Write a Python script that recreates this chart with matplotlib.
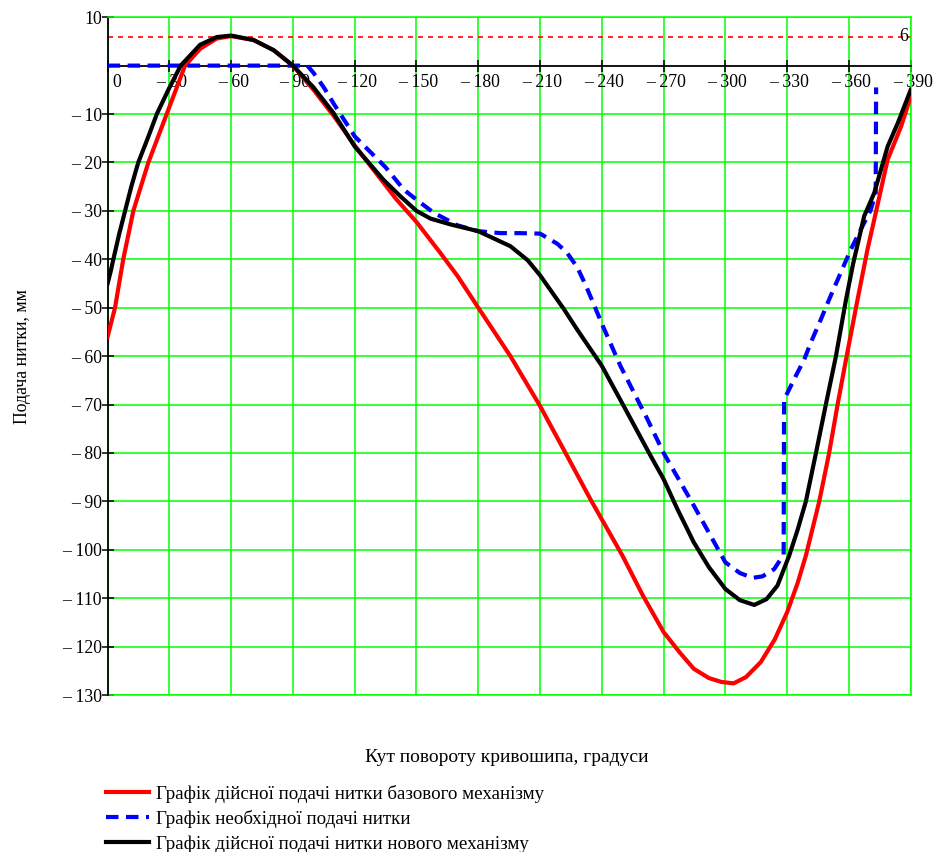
import matplotlib
matplotlib.use('Agg')
import matplotlib.pyplot as plt
import matplotlib.transforms as mtransforms

plt.rcParams['font.family'] = ['Liberation Serif', 'DejaVu Serif']

# ---------------- data ----------------
angle_base = [0, 3.6, 7.6, 12.5, 19.8, 28.7, 37.6, 45, 53, 60, 70.8, 80.6, 90,
              100, 110, 120, 130, 140, 150, 161.6, 170, 180, 195.6, 210, 221.6,
              234.5, 250, 260, 270, 278, 284.7, 292, 298, 304, 310, 317.2, 324,
              330, 335, 339.1, 345.6, 350.4, 354.5, 358.9, 364.2, 369, 372.3,
              378.8, 385.3, 390]
feed_base = [-56, -50, -40, -30, -20, -10, 0, 3.5, 5.6, 6.1, 5.3, 3.2, 0,
             -5, -10.5, -16.5, -22, -27.5, -32.3, -38.7, -43.5, -50, -60, -70.3, -79.4,
             -89.6, -101.2, -109.5, -117, -121.3, -124.6, -126.5, -127.3, -127.6, -126.3, -123.2, -118.5,
             -112.9, -107, -101.2, -90, -80, -70, -60, -48.3, -38, -31.8,
             -19.4, -12.6, -6.4]

angle_req = [0, 97, 100, 105, 110, 120, 135, 143.8, 150, 158.4, 170, 180, 190.8,
             200, 210, 218.4, 223, 228, 232, 236.2, 240, 249, 262.1, 270, 284.7, 300, 307,
             313.2, 318, 323.7, 328.3, 328.5, 334.2, 338.3, 341.5, 346.4, 350.4,
             356, 360.9, 365.7, 370.6, 373, 373.2]
feed_req = [0, 0, -1.5, -4.5, -8, -14.6, -21, -25.6, -27.7, -30.4, -33, -34.2, -34.6,
            -34.6, -34.7, -36.8, -38.6, -41.6, -45.2, -49.4, -53.3, -62, -73, -80, -90.9, -102.6, -104.8,
            -105.8, -105.5, -104, -101, -69, -64.1, -60.7, -57.2, -52.4, -48.3,
            -42.8, -38, -33.9, -29.8, -26.3, -4.5]

angle_new = [0, 1.5, 2.8, 5.5, 8.5, 11.5, 14.9, 19.5, 23.9, 29.5, 35.5, 44.9, 53, 60,
             70.8, 80.6, 90, 100, 109.7, 120, 134, 142.2, 150, 156.8, 166.5, 180,
             195.6, 204, 210, 221.6, 228, 240, 252.4, 263.7, 270, 276.7, 284.7, 292, 300,
             307, 314, 320, 325.3, 331, 335, 339.1, 344, 348.8, 353.7, 358.6, 362,
             367.4, 372.3, 378.8, 383.7, 390]
feed_new = [-45, -42.5, -40, -35, -30, -25, -20, -15, -10, -5, 0, 4.3, 5.9, 6.2,
            5.3, 3.2, 0, -4.5, -9.8, -16.7, -23.6, -27, -30, -31.6, -32.8, -34.2,
            -37.3, -40.2, -43.3, -50.3, -54.5, -62, -71.7, -80.6, -85.4, -91.6, -98.5, -103.6, -108.1,
            -110.4, -111.4, -110.2, -107.4, -101.2, -96, -90, -80, -70, -60, -48.3, -41,
            -31.1, -26.3, -16.7, -11.9, -5]

limit_value = 6

x_ticks = list(range(0, 391, 30))
y_ticks = [10] + list(range(-10, -131, -10))
x_labels = ['0'] + ['\u2013 %d' % v for v in x_ticks[1:]]
y_labels = ['10'] + ['\u2013 %d' % (-v) for v in y_ticks[1:]]

legend_labels = ['Графік дійсної подачі нитки базового механізму',
                 'Графік необхідної подачі нитки',
                 'Графік дійсної подачі нитки нового механізму']
x_title = 'Кут повороту кривошипа, градуси'
y_title = 'Подача нитки, мм'

# ---------------- figure ----------------
W, H = 938, 852
fig = plt.figure(figsize=(W / 100, H / 100), dpi=100)
ax = fig.add_axes([107.6 / W, 157 / H, 803.1 / W, 677.8 / H])
ax.set_xlim(0, 390)
ax.set_ylim(-130, 10)

green = '#00ff00'
ax.set_xticks(x_ticks)
ax.set_yticks(y_ticks)
ax.grid(True, color=green, lw=1.1, zorder=0)
ax.set_axisbelow(True)

for s in ['top', 'right']:
    ax.spines[s].set_color(green)
    ax.spines[s].set_linewidth(1.1)
ax.spines['left'].set_color('black')
ax.spines['left'].set_linewidth(1.3)
ax.spines['bottom'].set_position(('data', 0))
ax.spines['bottom'].set_color('black')
ax.spines['bottom'].set_linewidth(1.3)
ax.axhline(-130, color=green, lw=1.1, clip_on=False, zorder=1)

fs = 12.8
fs_big = 14
fs_leg = 13.7
ax.set_xticklabels(x_labels, fontsize=fs)
ax.set_yticklabels(y_labels, fontsize=fs)
ax.tick_params(axis='x', direction='inout', length=8, width=1.1, pad=2, colors='black')
ax.tick_params(axis='y', direction='inout', length=8, width=1.1, pad=0, colors='black')

for i, lab in enumerate(ax.get_xticklabels()):
    dx = 9 / 72 if i == 0 else 2 / 72
    lab.set_transform(lab.get_transform() + mtransforms.ScaledTranslation(dx * 0.72, 0, fig.dpi_scale_trans))

# threshold line
ax.axhline(limit_value, color='red', lw=1.2, dashes=(3, 3), zorder=2)
ax.text(388.7, limit_value, '6', ha='right', va='center', fontsize=fs, color='black')

l1, = ax.plot(angle_base, feed_base, color='red', lw=3.0, zorder=3)
l2, = ax.plot(angle_req, feed_req, color='blue', lw=3.0, zorder=4, dashes=(3, 1.8))
l3, = ax.plot(angle_new, feed_new, color='black', lw=3.0, zorder=5)

ax.set_ylabel(y_title, fontsize=fs, labelpad=22)
fig.text(507 / W, 1 - 757 / H, x_title, ha='center', va='center', fontsize=fs_big)

fig.legend([l1, l2, l3], legend_labels, loc='upper left',
           bbox_to_anchor=(106 / W, 1 - 785 / H), frameon=False, fontsize=fs_leg,
           handlelength=2.25, handletextpad=0.4, labelspacing=0.37,
           borderpad=0, borderaxespad=0)

fig.savefig('out.png', dpi=100)
